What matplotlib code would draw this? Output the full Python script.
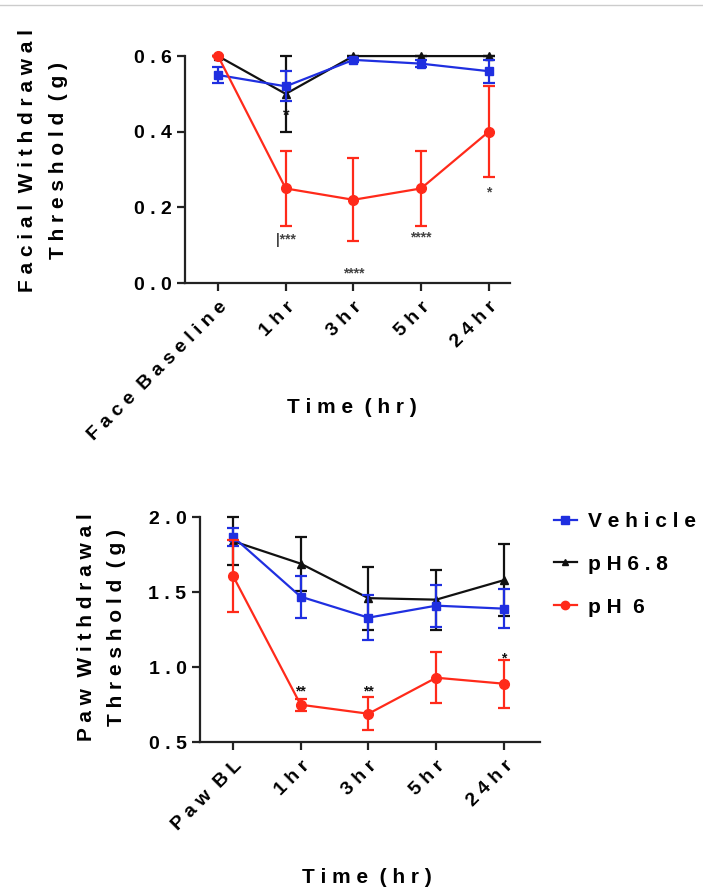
import matplotlib
matplotlib.use("Agg")
import matplotlib.pyplot as plt
from matplotlib.lines import Line2D

plt.rcParams['font.family'] = ['Liberation Sans', 'DejaVu Sans']
plt.rcParams['font.weight'] = 'bold'

# facial data
face_times = ['Face Baseline', '1hr', '3hr', '5hr', '24hr']
face_vehicle = [0.55, 0.52, 0.59, 0.58, 0.56]
face_vehicle_err = [0.02, 0.04, 0.005, 0.01, 0.03]
face_ph68 = [0.60, 0.50, 0.60, 0.60, 0.60]
face_ph68_err = [0.0, 0.10, 0.0, 0.0, 0.0]
face_ph6 = [0.60, 0.25, 0.22, 0.25, 0.40]
face_ph6_err = [0.0, 0.10, 0.11, 0.10, 0.12]

# paw data
paw_times = ['Paw BL', '1hr', '3hr', '5hr', '24hr']
paw_vehicle = [1.87, 1.47, 1.33, 1.41, 1.39]
paw_vehicle_err = [0.06, 0.14, 0.15, 0.14, 0.13]
paw_ph68 = [1.84, 1.69, 1.46, 1.45, 1.58]
paw_ph68_err = [0.16, 0.18, 0.21, 0.20, 0.24]
paw_ph6 = [1.61, 0.75, 0.69, 0.93, 0.89]
paw_ph6_err = [0.24, 0.04, 0.11, 0.17, 0.16]

BLUE = '#1f2fe0'
BLACK = '#111111'
RED = '#ff2a1a'


def spaced(s):
    # prism-style letter spacing
    return '  '.join(' '.join(w) for w in s.split(' '))


def draw_panel(ax, labels, veh, veh_e, p68, p68_e, p6, p6_e):
    x = list(range(len(labels)))
    ax.errorbar(x, p68, yerr=p68_e, color=BLACK, marker='^', ms=6, lw=1.6,
                capsize=4.5, capthick=1.6, elinewidth=1.6, clip_on=False, zorder=3)
    ax.errorbar(x, veh, yerr=veh_e, color=BLUE, marker='s', ms=6, lw=1.6,
                capsize=4.5, capthick=1.6, elinewidth=1.6, clip_on=False, zorder=4)
    ax.errorbar(x, p6, yerr=p6_e, color=RED, marker='o', ms=7, lw=1.6,
                capsize=4.5, capthick=1.6, elinewidth=1.6, clip_on=False, zorder=5)
    ax.set_xticks(x)
    ax.set_xticklabels([spaced(t) for t in labels], rotation=45, ha='right',
                       rotation_mode='anchor', fontsize=14, fontweight='bold')
    for s in ['top', 'right']:
        ax.spines[s].set_visible(False)
    for s in ['left', 'bottom']:
        ax.spines[s].set_linewidth(1.6)
        ax.spines[s].set_color('#222222')
    ax.tick_params(width=1.6, length=6, labelsize=14, color='#222222')
    ax.tick_params(axis='x', pad=5)


fig = plt.figure(figsize=(7.03, 8.90), dpi=100)
fig.add_artist(Line2D([0, 1], [0.994, 0.994], color='#cccccc', lw=1))

ax1 = fig.add_axes([0.263, 0.682, 0.462, 0.255])
draw_panel(ax1, face_times, face_vehicle, face_vehicle_err, face_ph68, face_ph68_err,
           face_ph6, face_ph6_err)
ax1.set_xlim(-0.49, 4.31)
ax1.set_ylim(0, 0.6)
ax1.set_yticks([0.0, 0.2, 0.4, 0.6])
ax1.set_yticklabels([spaced(f'{v:.1f}') for v in [0.0, 0.2, 0.4, 0.6]], fontweight='bold')
ax1.text(-0.437, 0.54, spaced('Facial Withdrawal') + '\n' + spaced('Threshold (g)'),
         transform=ax1.transAxes, rotation=90, ha='center', va='center',
         fontsize=15, fontweight='bold', linespacing=1.75)
ax1.text(0.514, -0.55, spaced('Time (hr)'), transform=ax1.transAxes,
         ha='center', va='center', fontsize=15, fontweight='bold')
ax1.text(1, 0.44, '*', ha='center', va='center', fontsize=12, color=BLACK)
ax1.text(1, 0.115, '|***', ha='center', va='center', fontsize=10, color='#444444')
ax1.text(2, 0.025, '****', ha='center', va='center', fontsize=10, color='#444444')
ax1.text(3, 0.12, '****', ha='center', va='center', fontsize=10, color='#444444')
ax1.text(4, 0.24, '*', ha='center', va='center', fontsize=10, color='#444444')

ax2 = fig.add_axes([0.284, 0.166, 0.484, 0.253])
draw_panel(ax2, paw_times, paw_vehicle, paw_vehicle_err, paw_ph68, paw_ph68_err,
           paw_ph6, paw_ph6_err)
ax2.set_xlim(-0.49, 4.53)
ax2.set_ylim(0.5, 2.0)
ax2.set_yticks([0.5, 1.0, 1.5, 2.0])
ax2.set_yticklabels([spaced(f'{v:.1f}') for v in [0.5, 1.0, 1.5, 2.0]], fontweight='bold')
ax2.text(-0.288, 0.51, spaced('Paw Withdrawal') + '\n' + spaced('Threshold (g)'),
         transform=ax2.transAxes, rotation=90, ha='center', va='center',
         fontsize=15, fontweight='bold', linespacing=1.75)
ax2.text(0.49, -0.60, spaced('Time (hr)'), transform=ax2.transAxes,
         ha='center', va='center', fontsize=15, fontweight='bold')
ax2.text(1, 0.84, '**', ha='center', va='center', fontsize=10, color=BLACK)
ax2.text(2, 0.84, '**', ha='center', va='center', fontsize=10, color=BLACK)
ax2.text(4, 1.06, '*', ha='center', va='center', fontsize=10, color=BLACK)

handles = [
    Line2D([], [], color=BLUE, marker='s', ms=6, lw=1.6),
    Line2D([], [], color=BLACK, marker='^', ms=5, lw=1.6),
    Line2D([], [], color=RED, marker='o', ms=6, lw=1.6),
]
fig.legend(handles, [spaced('Vehicle'), spaced('pH6.8'), spaced('pH 6')],
           loc='upper left', bbox_to_anchor=(0.761, 0.446), frameon=False,
           prop={'size': 15, 'weight': 'bold'}, handlelength=1.1,
           handletextpad=0.55, labelspacing=1.15)

fig.savefig('out.png', dpi=100)
